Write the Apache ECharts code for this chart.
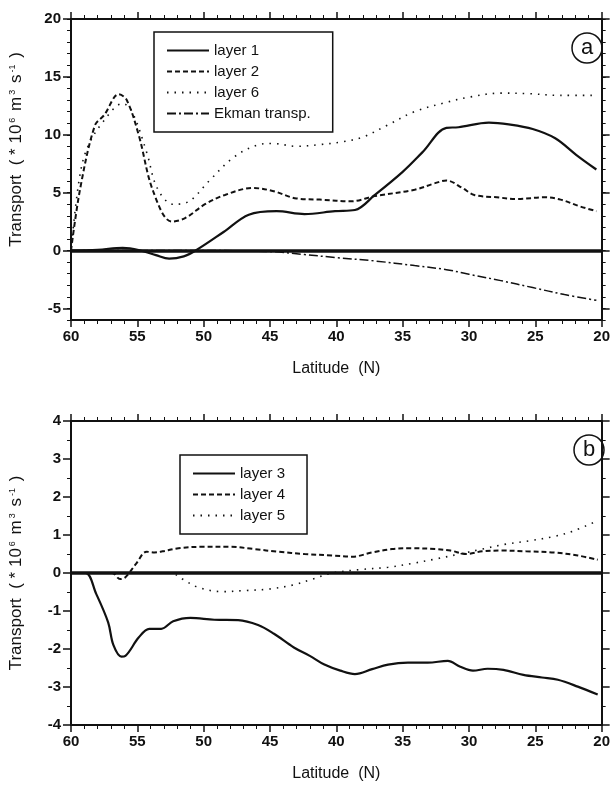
<!DOCTYPE html>
<html><head><meta charset="utf-8">
<script src="https://cdn.jsdelivr.net/npm/echarts@6/dist/echarts.min.js"></script>
<style>html,body{margin:0;padding:0;background:#fff}#c{width:613px;height:791px}</style>
</head><body><div id="c"></div>
<script>
// ---- Panel a data ----
const lat1 = [60,58,56.1,54.9,53.6,52.6,51.5,50.6,48.5,46.6,44.5,42.4,40.1,38.6,37.1,35,33.5,31.7,30.8,28.5,27,25.2,23.5,21.9,20.4];
const layer1 = [0,0.05,0.23,0.05,-0.4,-0.7,-0.5,0,1.6,3.1,3.4,3.15,3.4,3.5,4.8,6.8,8.5,10.6,10.65,11.05,10.9,10.5,9.7,8.25,7.0];
const lat2 = [60,59.3,58.2,57.5,56.4,55.8,54.9,53.8,52.4,51.4,49.9,48.4,46.3,44.8,43,41.25,38.9,37.1,34.1,32.6,31.7,30.5,29.6,27.9,26.4,24.3,23.1,21.6,20.4];
const layer2 = [0,5.4,10.8,11.7,13.5,13.0,10.0,5.1,2.5,2.8,4.0,4.8,5.4,5.15,4.5,4.4,4.25,4.7,5.25,5.8,6.05,5.4,4.8,4.6,4.45,4.6,4.4,3.8,3.4];
const lat6 = [60,59.4,58.8,57.6,56.1,55.4,54.3,53.5,52.3,51.1,49.6,47.8,46,44.8,43,41.25,39.5,38,36.2,34.1,31.7,30,27.6,25.5,23.1,20.4];
const layer6 = [0,6,8.8,11.1,12.7,12.0,8.5,5.4,4.0,4.25,6.0,8.0,9.1,9.25,9.0,9.15,9.4,9.8,10.8,12.0,12.8,13.25,13.6,13.55,13.4,13.4];
const latE = [60,50,44.8,42.4,40.1,37.1,34.1,31.7,30,27.6,25.2,22.8,20.4];
const ekman = [0,0,-0.1,-0.35,-0.6,-0.9,-1.3,-1.65,-2.05,-2.6,-3.2,-3.8,-4.3];
// ---- Panel b data ----
const lat3 = [60,58.9,58.1,57.2,56.8,56.2,55.9,54.9,54.1,53.2,52.3,51,49.2,47.4,45.9,44.7,43.2,42,40.9,39.7,38.6,37.3,36.1,34.6,33.1,31.6,30.7,29.7,28.6,27.4,25.9,24.5,23.3,21.8,20.3];
const layer3 = [0,0,-0.55,-1.3,-1.9,-2.2,-2.18,-1.7,-1.47,-1.47,-1.27,-1.18,-1.23,-1.24,-1.37,-1.6,-1.96,-2.18,-2.41,-2.57,-2.66,-2.53,-2.41,-2.36,-2.36,-2.31,-2.46,-2.57,-2.52,-2.55,-2.68,-2.75,-2.81,-2.99,-3.2];
const lat4 = [60,56.9,56.3,55.9,55.1,54.3,53.7,53.1,51.9,50.1,48,46.2,44.4,42.4,40.3,38.8,37.3,35.8,34.3,32.5,31.4,30.2,29,27.5,25.7,23.6,21.8,20.3];
const layer4 = [0,0,-0.16,-0.11,0.24,0.56,0.54,0.57,0.65,0.69,0.69,0.63,0.56,0.5,0.46,0.43,0.54,0.63,0.65,0.63,0.59,0.5,0.57,0.59,0.57,0.54,0.46,0.35];
const lat5 = [60,52.5,51.6,50.4,48.6,46.8,45,43.2,41.8,40.3,38.2,36.1,34.3,32.5,30.7,29,27.2,25.4,23.6,22.1,20.6];
const layer5 = [0,0,-0.16,-0.38,-0.49,-0.46,-0.42,-0.31,-0.16,0,0.09,0.15,0.25,0.37,0.5,0.63,0.76,0.85,0.96,1.11,1.33];
// ---- axis ticks ----
const yTicksA = [-5,0,5,10,15,20];
const yTicksB = [-4,-3,-2,-1,0,1,2,3,4];

const zip = (xs, ys) => xs.map((x,i)=>[x,ys[i]]);
const FONT = 'Liberation Sans';
const black = '#111';

const chart = echarts.init(document.getElementById('c'), null, {renderer:'canvas'});

function xAxes(gi) {
  const base = {gridIndex:gi, type:'value', min:20, max:60, interval:5, inverse:true,
    axisLine:{onZero:false, lineStyle:{color:black, width:2}}, splitLine:{show:false},
    axisTick:{length:7, lineStyle:{color:black, width:1.5}},
    minorTick:{show:true, splitNumber:5, length:4, lineStyle:{color:black, width:1}}};
  return [
    Object.assign({}, base, {position:'bottom',
      axisLabel:{color:black, fontFamily:FONT, fontSize:15, fontWeight:'bold', margin:9},
      name:'Latitude  (N)', nameLocation:'middle', nameGap:41,
      nameTextStyle:{color:black, fontFamily:FONT, fontSize:16}}),
    Object.assign({}, base, {position:'top', axisLabel:{show:false}})
  ];
}

const richSup = {s:{fontSize:9, verticalAlign:'top', padding:[0,2,8,2], color:black, fontFamily:FONT}};

function yAxesA(gi) {
  const common = {gridIndex:gi, type:'value', min:-6, max:20, splitLine:{show:false},
    axisLine:{onZero:false, lineStyle:{color:black, width:2}}};
  return [
    Object.assign({}, common, {position:'left', interval:1,
      axisTick:{length:4, lineStyle:{color:black, width:1}},
      axisLabel:{color:black, fontFamily:FONT, fontSize:15, fontWeight:'bold', margin:10,
        formatter: v => (v % 5 === 0 ? String(v) : '')},
      name:'Transport  ( * 10{s|6} m{s|3} s{s|-1} )', nameLocation:'middle', nameGap:46,
      nameTextStyle:{color:black, fontFamily:FONT, fontSize:17, padding:[0,0,0,40], rich:richSup}}),
    Object.assign({}, common, {position:'left', axisLine:{show:false},
      axisTick:{length:8, lineStyle:{color:black, width:1.5}, customValues:yTicksA},
      axisLabel:{show:false}}),
    Object.assign({}, common, {position:'right', interval:1,
      axisTick:{length:4, lineStyle:{color:black, width:1}}, axisLabel:{show:false}}),
    Object.assign({}, common, {position:'right', axisLine:{show:false},
      axisTick:{length:8, lineStyle:{color:black, width:1.5}, customValues:yTicksA},
      axisLabel:{show:false}})
  ];
}
function yAxesB(gi) {
  const common = {gridIndex:gi, type:'value', min:-4, max:4, interval:1, splitLine:{show:false},
    axisLine:{onZero:false, lineStyle:{color:black, width:2}},
    axisTick:{length:8, lineStyle:{color:black, width:1.5}},
    minorTick:{show:true, splitNumber:2, length:4, lineStyle:{color:black, width:1}}};
  return [
    Object.assign({}, common, {position:'left',
      axisLabel:{color:black, fontFamily:FONT, fontSize:15, fontWeight:'bold', margin:10},
      name:'Transport  ( * 10{s|6} m{s|3} s{s|-1} )', nameLocation:'middle', nameGap:46,
      nameTextStyle:{color:black, fontFamily:FONT, fontSize:17, rich:richSup}}),
    Object.assign({}, common, {position:'right', axisLabel:{show:false}})
  ];
}

function line(name, xi, yi, lat, vals, type, width, extra) {
  return Object.assign({name, type:'line', xAxisIndex:xi, yAxisIndex:yi, data:zip(lat, vals),
    smooth:0.35, symbol:'none', showSymbol:false,
    lineStyle:{color:black, width:width, type:type}, itemStyle:{color:black}}, extra||{});
}
const zeroLine = {silent:true, symbol:['none','none'], label:{show:false},
  lineStyle:{color:black, width:3.5, type:'solid'}, data:[{yAxis:0}]};

const legendCommon = {orient:'vertical', borderColor:black, borderWidth:1.5, backgroundColor:'#fff',
  itemWidth:42, itemHeight:10, itemGap:6, padding:[11,22,11,12],
  itemStyle:{color:'rgba(0,0,0,0)', borderColor:'rgba(0,0,0,0)', borderWidth:0, opacity:0},
  textStyle:{color:black, fontFamily:FONT, fontSize:15}, selectedMode:false};

chart.setOption({
  animation:false,
  backgroundColor:'#fff',
  grid:[{left:70, right:9, top:19, height:301},{left:70, right:9, top:421, height:304}],
  xAxis:[...xAxes(0), ...xAxes(1)],
  yAxis:[...yAxesA(0), ...yAxesB(1)],
  legend:[
    Object.assign({}, legendCommon, {left:154, top:32, data:['layer 1','layer 2','layer 6','Ekman transp.']}),
    Object.assign({}, legendCommon, {left:180, top:455, data:['layer 3','layer 4','layer 5']})
  ],
  series:[
    line('layer 1',0,0,lat1,layer1,'solid',2.2,{markLine:zeroLine}),
    line('layer 2',0,0,lat2,layer2,[5,3],2),
    line('layer 6',0,0,lat6,layer6,[1.5,6],1.6),
    line('Ekman transp.',0,0,latE,ekman,[9,3,2,3],1.5),
    line('layer 3',2,4,lat3,layer3,'solid',2.2,{markLine:zeroLine}),
    line('layer 4',2,4,lat4,layer4,[5,3],2),
    line('layer 5',2,4,lat5,layer5,[1.5,6],1.6)
  ],
  graphic:[
    {type:'circle', shape:{cx:587, cy:48, r:15}, style:{fill:'#fff', stroke:black, lineWidth:1.5}},
    {type:'text', x:587, y:48, style:{text:'a', x:0, y:0, align:'center', verticalAlign:'middle', fontFamily:FONT, fontSize:22, fill:black}},
    {type:'circle', shape:{cx:589, cy:450, r:15}, style:{fill:'#fff', stroke:black, lineWidth:1.5}},
    {type:'text', x:589, y:450, style:{text:'b', x:0, y:0, align:'center', verticalAlign:'middle', fontFamily:FONT, fontSize:22, fill:black}}
  ]
});
</script></body></html>
